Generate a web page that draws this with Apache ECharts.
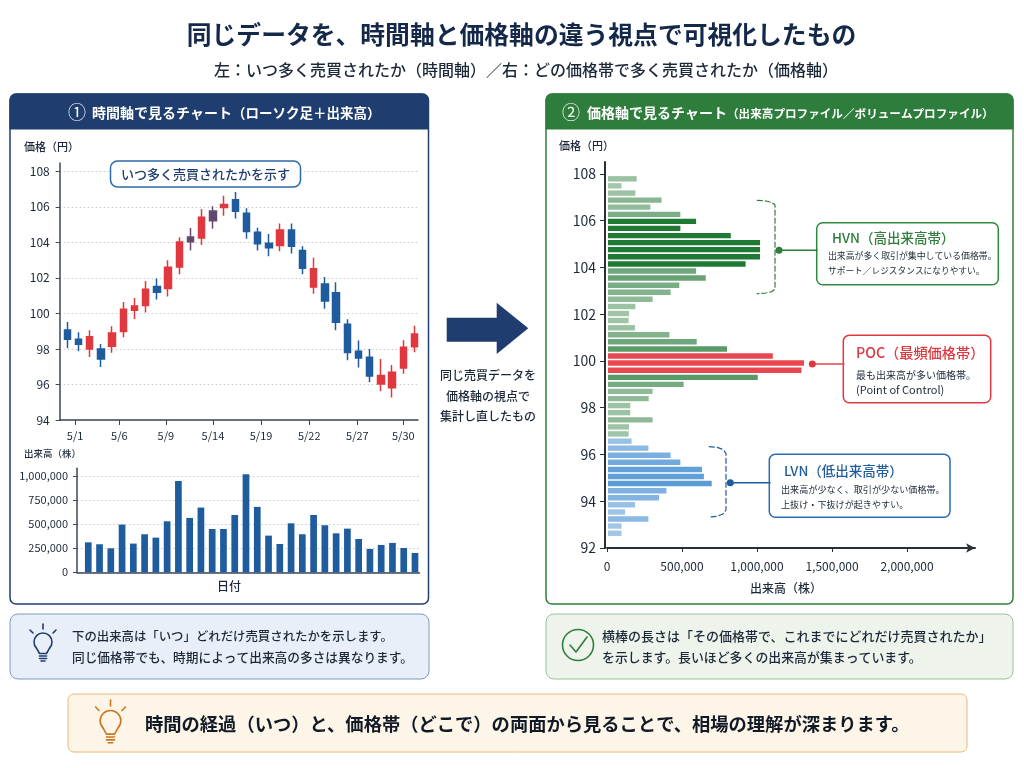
<!DOCTYPE html>
<html lang="ja">
<head>
<meta charset="utf-8">
<title>同じデータを、時間軸と価格軸の違う視点で可視化したもの</title>
<script src="https://cdn.jsdelivr.net/npm/echarts@6/dist/echarts.min.js"></script>
<style>
  html, body { margin: 0; padding: 0; background: #fff; }
  #chart { width: 1024px; height: 768px; }
</style>
</head>
<body>
<div id="chart"></div>
<script>
// Daily candles: open, close, low, high (yen)
const candles = [
  [99.07, 98.54, 98.04, 99.52], [98.54, 98.26, 97.87, 98.94], [98.0, 98.69, 97.55, 99.05], [98.0, 97.44, 96.99, 98.28],
  [98.15, 98.9, 97.79, 99.28], [98.98, 100.23, 98.66, 100.65], [100.18, 100.42, 99.69, 100.87], [100.44, 101.36, 100.05, 101.83],
  [101.51, 101.19, 100.78, 101.96], [101.4, 102.6, 100.95, 103.0], [102.62, 104.02, 102.2, 104.29], [104.04, 104.3, 103.55, 104.81],
  [104.25, 105.41, 103.85, 105.88], [105.22, 105.77, 104.77, 106.03], [105.96, 106.14, 105.5, 106.63], [106.4, 105.75, 105.34, 106.84],
  [105.64, 104.62, 104.21, 105.92], [104.57, 103.93, 103.55, 104.83], [103.95, 103.7, 103.22, 104.47], [103.82, 104.7, 103.5, 105.07],
  [104.7, 103.78, 103.38, 105.07], [103.55, 102.54, 102.2, 103.78], [101.49, 102.52, 101.11, 103.14], [101.66, 100.7, 100.27, 102.05],
  [101.17, 99.5, 99.05, 101.75], [99.39, 97.8, 97.36, 99.67], [97.87, 97.49, 96.95, 98.47], [97.53, 96.48, 96.12, 98.0],
  [96.03, 96.5, 95.62, 97.44], [95.82, 96.69, 95.26, 97.1], [96.93, 98.09, 96.61, 98.49], [98.13, 98.84, 97.81, 99.3]
];
// Candles whose body blends the up and down colours
const blendedCandles = [11, 13];
const dateTicks = [0.69, 4.64, 8.8, 13, 17.3, 21.6, 25.9, 30];
const dateLabels = ['5/1', '5/6', '5/9', '5/14', '5/19', '5/22', '5/27', '5/30'];
const priceTicks = [94, 96, 98, 100, 102, 104, 106, 108];

// Daily traded volume (shares)
const dailyVolume = [
  312000, 292000, 250000, 497000, 299000, 396000, 361000, 531000, 951000, 566000,
  674000, 451000, 451000, 597000, 1021000, 681000, 382000, 295000, 510000, 396000,
  597000, 490000, 406000, 455000, 347000, 243000, 285000, 306000, 253000, 201000
];
const volumeTicks = [0, 250000, 500000, 750000, 1000000];

// Volume profile: price bins and the shares traded in each
const profilePrices = [
  107.79, 107.49, 107.18, 106.88, 106.58, 106.27, 105.97, 105.67, 105.36, 105.06,
  104.76, 104.46, 104.15, 103.85, 103.55, 103.24, 102.94, 102.64, 102.33, 102.03,
  101.73, 101.42, 101.12, 100.82, 100.51, 100.21, 99.91, 99.60, 99.30, 99.00,
  98.70, 98.39, 98.09, 97.79, 97.48, 97.18, 96.88, 96.57, 96.27, 95.97,
  95.67, 95.36, 95.06, 94.76, 94.45, 94.15, 93.85, 93.54, 93.24, 92.94, 92.63
];
const profileVolume = [
  198000, 97000, 189000, 364000, 289000, 489000, 594000, 489000, 825000, 1020000,
  1020000, 1020000, 924000, 594000, 658000, 482000, 424000, 304000, 189000, 147000,
  144000, 187000, 416000, 598000, 800000, 1105000, 1313000, 1296000, 1005000, 511000,
  304000, 278000, 155000, 155000, 304000, 147000, 144000, 164000, 276000, 424000,
  489000, 633000, 646000, 698000, 396000, 347000, 187000, 120000, 276000, 97000, 97000
];
const profilePriceTicks = [92, 94, 96, 98, 100, 102, 104, 106, 108];
const profileVolumeTicks = [0, 500000, 1000000, 1500000, 2000000];

// Price zones of the profile
const pocZone = [99.5, 100.3];
const hvnZone = [104.0, 106.1];
const lvnTop = 96.7;

const FONT = '"Noto Sans CJK JP", "Noto Sans", sans-serif';
const NAVY = '#1f3d6e', BLUE = '#1f5c9e', RED = '#e0383f', GREEN = '#2f7d3c', INK = '#1c2838';

function profileColor(price, volume) {
  if (price >= pocZone[0] && price <= pocZone[1]) return '#e8474f';
  if (price >= hvnZone[0] && price <= hvnZone[1]) return '#1f7a34';
  if (price < lvnTop) return 'rgba(90,155,215,' + (0.5 + 0.5 * volume / 700000).toFixed(2) + ')';
  return 'rgba(42,125,60,' + (0.38 + 0.4 * Math.min(volume, 800000) / 800000).toFixed(2) + ')';
}

function text(x, y, str, size, fill, opts) {
  const o = opts || {};
  return {
    type: 'text', z: o.z || 20, silent: true,
    style: {
      x, y, text: str, fill, fontSize: size, fontFamily: FONT, fontWeight: o.weight || 'normal',
      align: o.align || 'left', verticalAlign: 'middle', textAlign: o.align || 'left', textVerticalAlign: 'middle'
    }
  };
}
function box(x0, y0, x1, y1, r, fill, stroke, lw, z) {
  return {
    type: 'rect', z: z === undefined ? -10 : z, silent: true,
    shape: { x: x0, y: y0, width: x1 - x0, height: y1 - y0, r },
    style: { fill, stroke, lineWidth: lw }
  };
}
function stroked(points, stroke, lw, extra) {
  return {
    type: 'polyline', z: 15, silent: true,
    shape: { points },
    style: Object.assign({ fill: 'none', stroke, lineWidth: lw, lineCap: 'round', lineJoin: 'round' }, extra || {})
  };
}
function dot(x, y, r, fill) {
  return { type: 'circle', z: 16, silent: true, shape: { cx: x, cy: y, r }, style: { fill } };
}
// Light bulb icon: globe arc, neck, screw base and three rays
function bulb(cx, cy, s, color) {
  const p = (x, y) => [cx + x * s, cy + y * s];
  const line = pts => stroked(pts.map(q => p(q[0], q[1])), color, 1.6);
  return [
    {
      type: 'arc', z: 15, silent: true,
      shape: { cx, cy: cy - s, r: 9 * s, startAngle: Math.PI * 0.75, endAngle: Math.PI * 2.25, clockwise: true },
      style: { fill: 'none', stroke: color, lineWidth: 1.6 }
    },
    line([[-6.4, 5.4], [-3.5, 10.5], [3.5, 10.5], [6.4, 5.4]]),
    line([[-3.5, 13], [3.5, 13]]),
    line([[-3.5, 15.5], [3.5, 15.5]]),
    line([[-2, 18], [2, 18]]),
    line([[0, -14], [0, -19]]),
    line([[-10, -10], [-13, -13]]),
    line([[10, -10], [13, -13]])
  ];
}

const graphicElements = [
  text(521.5, 35, '同じデータを、時間軸と価格軸の違う視点で可視化したもの', 24.8, '#14284a', { align: 'center', weight: 'bold' }),
  text(526, 70, '左：いつ多く売買されたか（時間軸）／右：どの価格帯で多く売買されたか（価格軸）', 16, INK, { align: 'center', weight: 500 }),

  // Left panel
  box(10, 94, 428.5, 604, 6, '#ffffff', NAVY, 1.5),
  box(10, 94, 428.5, 129, [6, 6, 0, 0], NAVY, NAVY, 1, -9),
  text(77, 112, '①', 18, '#fff', { align: 'center' }),
  text(92, 113, '時間軸で見るチャート', 14, '#fff', { weight: 'bold' }),
  text(232, 113, '（ローソク足＋出来高）', 13.5, '#fff', { weight: 'bold' }),
  text(24, 147, '価格（円）', 11, INK, { weight: 500 }),
  text(24, 453, '出来高（株）', 9.5, INK, { weight: 500 }),
  text(229, 586, '日付', 12, INK, { align: 'center', weight: 500 }),
  box(110.5, 161, 300.5, 187, 7, '#ffffff', '#2d6aa8', 1.5, 10),
  text(205.5, 174, 'いつ多く売買されたかを示す', 13, NAVY, { align: 'center', weight: 500 }),

  // Arrow between the panels
  {
    type: 'polygon', z: 5, silent: true,
    shape: { points: [[446.7, 317.7], [496.7, 317.7], [496.7, 302.7], [528.3, 328.3], [496.7, 354], [496.7, 341.7], [446.7, 341.7]] },
    style: { fill: NAVY }
  },
  text(488, 375, '同じ売買データを', 12, INK, { align: 'center', weight: 500 }),
  text(488, 396, '価格軸の視点で', 12, INK, { align: 'center', weight: 500 }),
  text(488, 416, '集計し直したもの', 12, INK, { align: 'center', weight: 500 }),

  // Right panel
  box(546, 94, 1013, 604, 6, '#ffffff', GREEN, 1.5),
  box(546, 94, 1013, 129, [6, 6, 0, 0], GREEN, GREEN, 1, -9),
  text(571, 112, '②', 18, '#fff', { align: 'center' }),
  text(587, 113, '価格軸で見るチャート', 14, '#fff', { weight: 'bold' }),
  text(727, 114, '（出来高プロファイル／ボリュームプロファイル）', 11.6, '#fff', { weight: 'bold' }),
  text(559, 146, '価格（円）', 11, INK, { weight: 500 }),
  text(786, 588, '出来高（株）', 12, INK, { align: 'center', weight: 500 }),

  // HVN annotation
  stroked([[757.3, 200.3], [766, 201], [772, 202.5], [775, 205], [775, 289], [772, 291.5], [766, 293], [757.3, 293.7]], GREEN, 1.2, { lineDash: [5, 3] }),
  stroked([[779, 250.3], [817, 250.3]], GREEN, 1.5),
  dot(779, 250.3, 3.5, GREEN),
  box(816.7, 222.7, 998.3, 284.7, 6, '#ffffff', '#2f8a3f', 1.5, 10),
  text(832, 238, 'HVN（高出来高帯）', 13.5, GREEN, { weight: 500 }),
  text(828, 256, '出来高が多く取引が集中している価格帯。', 8.9, INK),
  text(828, 271, 'サポート／レジスタンスになりやすい。', 8.7, INK),

  // POC annotation
  stroked([[812.3, 364], [844, 364]], '#e8474f', 1.5),
  dot(812.3, 364, 3.5, '#e0383f'),
  box(843.3, 335.3, 990.7, 402.7, 6, '#ffffff', RED, 1.5, 10),
  text(856, 352.7, 'POC（最頻価格帯）', 14.2, RED, { weight: 500 }),
  text(856, 375, '最も出来高が多い価格帯。', 10, INK),
  text(856, 390, '(Point of Control)', 11, INK),

  // LVN annotation
  stroked([[709.3, 446.7], [717, 447.3], [723, 449.5], [726, 453.3], [726, 510], [723, 514], [717, 516.3], [709.3, 517]], BLUE, 1.2, { lineDash: [5, 3] }),
  stroked([[730.3, 482.7], [770, 482.7]], BLUE, 1.5),
  dot(730.3, 482.7, 3.5, BLUE),
  box(769.3, 454.3, 950, 517.3, 6, '#ffffff', '#2b6cb0', 1.5, 10),
  text(784, 471, 'LVN（低出来高帯）', 13.5, BLUE, { weight: 500 }),
  text(781, 489.3, '出来高が少なく、取引が少ない価格帯。', 9.1, INK),
  text(781, 504.3, '上抜け・下抜けが起きやすい。', 9.1, INK),

  // Note boxes below the panels
  box(10, 614, 429, 679, 8, '#e9eff8', '#7d9cc4', 1),
  ...bulb(43, 643, 1, NAVY),
  text(72, 636, '下の出来高は「いつ」どれだけ売買されたかを示します。', 12.4, INK, { weight: 500 }),
  text(72, 657, '同じ価格帯でも、時期によって出来高の多さは異なります。', 12.7, INK, { weight: 500 }),

  box(546, 614, 1013, 679, 8, '#eef4ec', '#9cc09f', 1),
  {
    type: 'circle', z: 15, silent: true,
    shape: { cx: 578, cy: 645, r: 15.5 },
    style: { fill: 'none', stroke: GREEN, lineWidth: 1.6 }
  },
  stroked([[570, 645], [576, 652], [587, 637]], GREEN, 1.6),
  text(602, 636, '横棒の長さは「その価格帯で、これまでにどれだけ売買されたか」', 13, INK, { weight: 500 }),
  text(602, 657, 'を示します。長いほど多くの出来高が集まっています。', 12.9, INK, { weight: 500 }),

  box(68, 694, 967, 752, 6, '#fdf5e8', '#e8b87a', 1),
  ...bulb(110.5, 722, 1.15, '#c8781e'),
  text(145, 724, '時間の経過（いつ）と、価格帯（どこで）の両面から見ることで、相場の理解が深まります。', 18.3, '#111a26', { weight: 'bold' })
];

const axisInk = '#3a4656';
const gridDots = { show: true, lineStyle: { color: '#c8c8c8', type: [1.5, 2.5], width: 1 } };

const option = {
  animation: false,
  graphic: { elements: graphicElements },
  grid: [
    { left: 59.7, top: 163, width: 358.3, height: 257 },
    { left: 77, top: 468.3, width: 342.5, height: 104 },
    { left: 607, top: 162, width: 368, height: 386 }
  ],
  xAxis: [
    {
      gridIndex: 0, type: 'value', min: -0.68, max: 31.31, splitLine: { show: false },
      axisLine: { show: true, onZero: false, lineStyle: { color: axisInk, width: 1.5 } },
      axisTick: { show: true, length: 5, customValues: dateTicks, lineStyle: { color: axisInk } },
      axisLabel: {
        customValues: dateTicks, margin: 10, fontSize: 11, color: INK, fontFamily: FONT,
        formatter: v => dateLabels[dateTicks.indexOf(v)]
      }
    },
    {
      gridIndex: 1, type: 'value', min: -1, max: 29.4, splitLine: { show: false },
      axisLine: { show: true, onZero: false, lineStyle: { color: axisInk, width: 1.5 } },
      axisTick: { show: false }, axisLabel: { show: false }
    },
    {
      gridIndex: 2, type: 'value', min: 0, max: 2453000, splitLine: { show: false },
      axisLine: { show: true, onZero: false, symbol: ['none', 'arrow'], symbolSize: [7, 9], lineStyle: { color: '#2a2f36', width: 2 } },
      axisTick: { show: true, length: 4, customValues: profileVolumeTicks, lineStyle: { color: '#2a2f36' } },
      axisLabel: {
        customValues: profileVolumeTicks, margin: 12, fontSize: 12, color: INK, fontFamily: FONT,
        formatter: v => v.toLocaleString('en-US')
      }
    }
  ],
  yAxis: [
    {
      gridIndex: 0, type: 'value', min: 94, max: 108.47, splitLine: gridDots,
      axisLine: { show: true, onZero: false, lineStyle: { color: axisInk, width: 1.5 } },
      axisTick: { show: true, length: 4, customValues: priceTicks, lineStyle: { color: axisInk } },
      axisLabel: { customValues: priceTicks, margin: 10, fontSize: 12, color: INK, fontFamily: FONT }
    },
    {
      gridIndex: 1, type: 'value', min: 0, max: 1083000, splitLine: gridDots,
      axisLine: { show: true, onZero: false, lineStyle: { color: axisInk, width: 1.5 } },
      axisTick: { show: true, length: 4, customValues: volumeTicks, lineStyle: { color: axisInk } },
      axisLabel: {
        customValues: volumeTicks, margin: 9, fontSize: 11, color: INK, fontFamily: FONT,
        formatter: v => v.toLocaleString('en-US')
      }
    },
    {
      gridIndex: 2, type: 'value', min: 92, max: 108.51, offset: 2, splitLine: { show: false },
      axisLine: { show: true, onZero: false, lineStyle: { color: '#2a2f36', width: 2 } },
      axisTick: { show: true, length: 5, customValues: profilePriceTicks, lineStyle: { color: '#2a2f36' } },
      axisLabel: { customValues: profilePriceTicks, margin: 9, fontSize: 14, color: INK, fontFamily: FONT }
    }
  ],
  series: [
    {
      type: 'candlestick', xAxisIndex: 0, yAxisIndex: 0, barWidth: 7,
      itemStyle: { color: RED, color0: BLUE, borderColor: RED, borderColor0: BLUE, borderWidth: 1.5 },
      data: candles.map((c, i) => {
        const item = { value: [i, c[0], c[1], c[2], c[3]] };
        if (blendedCandles.includes(i)) {
          item.itemStyle = { color: '#5c4a72', color0: '#5c4a72', borderColor: '#6a4a6e', borderColor0: '#6a4a6e' };
        }
        return item;
      })
    },
    {
      type: 'bar', xAxisIndex: 1, yAxisIndex: 1, barWidth: 6.7,
      itemStyle: { color: BLUE },
      data: dailyVolume.map((v, i) => [i, v])
    },
    {
      type: 'custom', xAxisIndex: 2, yAxisIndex: 2,
      encode: { x: 0, y: 1 },
      data: profileVolume.map((v, i) => [v, profilePrices[i]]),
      renderItem(params, api) {
        const base = api.coord([0, api.value(1)]);
        const end = api.coord([api.value(0), api.value(1)]);
        return {
          type: 'rect',
          shape: { x: base[0] + 1, y: base[1] - 2.7, width: end[0] - base[0] - 1, height: 5.4 },
          style: { fill: profileColor(api.value(1), api.value(0)) }
        };
      }
    }
  ]
};

const chart = echarts.init(document.getElementById('chart'), null, { width: 1024, height: 768 });
chart.setOption(option);
</script>
</body>
</html>
